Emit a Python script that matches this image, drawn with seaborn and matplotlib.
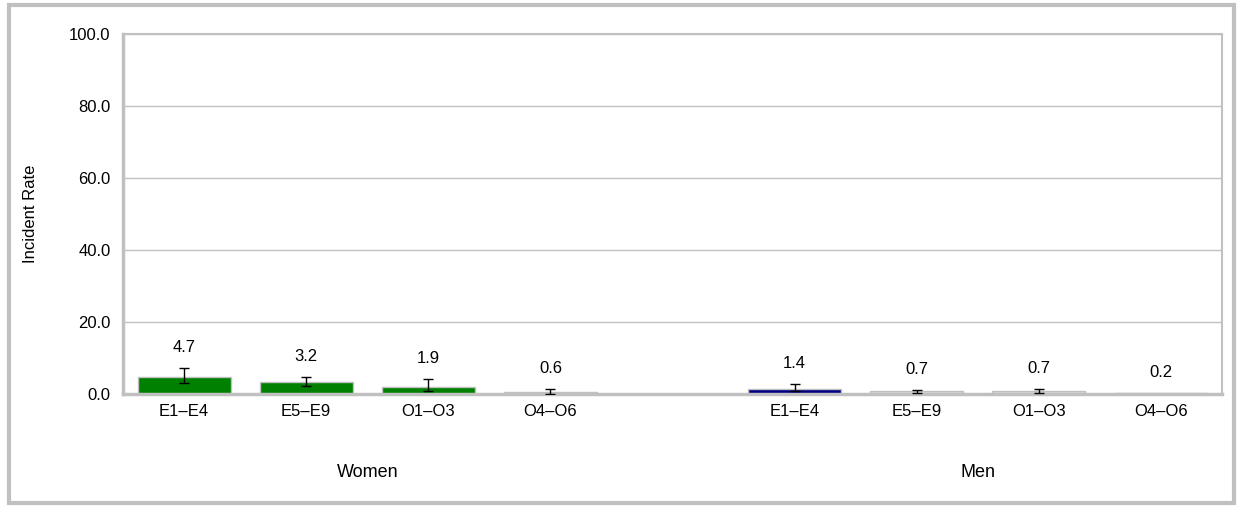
import numpy as np
import pandas as pd
import matplotlib
matplotlib.use("Agg")
import matplotlib.pyplot as plt
import seaborn as sns
from matplotlib.patches import Rectangle
from matplotlib.transforms import blended_transform_factory


GROUPS = ["Women", "Men"]
RANKS = ["E1–E4", "E5–E9", "O1–O3", "O4–O6"]

WOMEN_RATE = [4.7, 3.2, 1.9, 0.6]
WOMEN_LOW = [3.1, 2.2, 0.8, 0.1]
WOMEN_HIGH = [7.2, 4.6, 4.1, 1.4]

MEN_RATE = [1.4, 0.7, 0.7, 0.2]
MEN_LOW = [0.8, 0.4, 0.2, np.nan]
MEN_HIGH = [2.8, 1.1, 1.3, np.nan]

WOMEN_COLORS = ["#008000", "#008000", "#008000", "#d9d9d9"]
MEN_COLORS = ["#000080", "#d9d9d9", "#d9d9d9", "#d9d9d9"]

GRAY = "#c0c0c0"


def build_frame() -> pd.DataFrame:
    rows = []
    for group, rates, lows, highs in [
        ("Women", WOMEN_RATE, WOMEN_LOW, WOMEN_HIGH),
        ("Men", MEN_RATE, MEN_LOW, MEN_HIGH),
    ]:
        for rank, rate, lo, hi in zip(RANKS, rates, lows, highs):
            rows.append({"slot": f"{group} {rank}", "group": group, "rank": rank,
                         "rate": rate, "low": lo, "high": hi})
    return pd.DataFrame(rows)


def main() -> None:
    sns.set_theme(style="white")
    plt.rcParams["font.family"] = ["Liberation Sans", "DejaVu Sans"]
    plt.rcParams["text.color"] = "black"
    plt.rcParams["xtick.labelcolor"] = "black"
    plt.rcParams["ytick.labelcolor"] = "black"
    plt.rcParams["axes.labelcolor"] = "black"

    df = build_frame()
    order = [f"Women {r}" for r in RANKS] + ["gap"] + [f"Men {r}" for r in RANKS]
    colors = WOMEN_COLORS + MEN_COLORS
    palette = dict(zip(df["slot"], colors))

    fig = plt.figure(figsize=(12.38, 5.08), dpi=100)
    ax = fig.add_axes([0.0994, 0.2244, 0.8877, 0.7087])

    sns.barplot(data=df, x="slot", y="rate", order=order, hue="slot",
                palette=palette, legend=False, width=0.76, edgecolor=GRAY,
                linewidth=1, saturation=1, errorbar=None, ax=ax, zorder=2)

    pos = df["slot"].map({s: i for i, s in enumerate(order)}).to_numpy()
    has_err = df["high"].notna().to_numpy()
    ax.errorbar(pos[has_err], df["rate"][has_err],
                yerr=[df["rate"][has_err] - df["low"][has_err],
                      df["high"][has_err] - df["rate"][has_err]],
                fmt="none", ecolor="black", elinewidth=1, capsize=3.6, capthick=1,
                zorder=3)

    for x, rate, hi in zip(pos, df["rate"], df["high"]):
        top = rate if np.isnan(hi) else hi
        ax.annotate(f"{rate:.1f}", (x, top), xytext=(0, 15),
                    textcoords="offset points", ha="center", va="center",
                    fontsize=12, color="black")

    ax.set_ylim(0, 100)
    ax.set_xlim(-0.5, len(order) - 0.5)
    ax.set_yticks(np.arange(0, 101, 20))
    ax.set_yticklabels([f"{v:.1f}" for v in np.arange(0, 101, 20)], fontsize=12)
    ax.yaxis.grid(True, color=GRAY, linewidth=1, zorder=0)
    ax.set_axisbelow(True)

    ax.set_xticks(np.arange(-0.5, len(order), 1.0))
    ax.set_xticklabels([])
    tick_pos = [i for i, s in enumerate(order) if s != "gap"]
    ax.set_xticks(tick_pos, minor=True)
    ax.set_xticklabels([s.split(" ")[1] for s in order if s != "gap"],
                       minor=True, fontsize=12)
    ax.tick_params(axis="x", which="minor", length=0, pad=7)
    ax.tick_params(axis="x", which="major", length=5, width=2, color=GRAY,
                   direction="out")
    ax.tick_params(axis="y", length=5, width=2, color=GRAY, direction="out",
                   pad=4)

    ax.set_xlabel("")
    ax.set_ylabel("Incident Rate", fontsize=12)
    ax.yaxis.set_label_coords(-0.077, 0.5)

    for side in ["left", "bottom"]:
        ax.spines[side].set_color(GRAY)
        ax.spines[side].set_linewidth(2.5)
    for side in ["right", "top"]:
        ax.spines[side].set_color(GRAY)
        ax.spines[side].set_linewidth(1.5)
        ax.spines[side].set_visible(True)

    trans = blended_transform_factory(ax.transData, ax.transAxes)
    for group in GROUPS:
        idx = [i for i, s in enumerate(order) if s.startswith(group)]
        ax.text(np.mean(idx), -0.219, group, transform=trans, ha="center",
                va="center", fontsize=13, color="black")

    fig.patches.append(Rectangle((0.0075, 0.01), 0.9895, 0.98,
                                 transform=fig.transFigure, fill=False,
                                 edgecolor=GRAY, linewidth=3))

    fig.savefig("out.png", dpi=100)


if __name__ == "__main__":
    main()
